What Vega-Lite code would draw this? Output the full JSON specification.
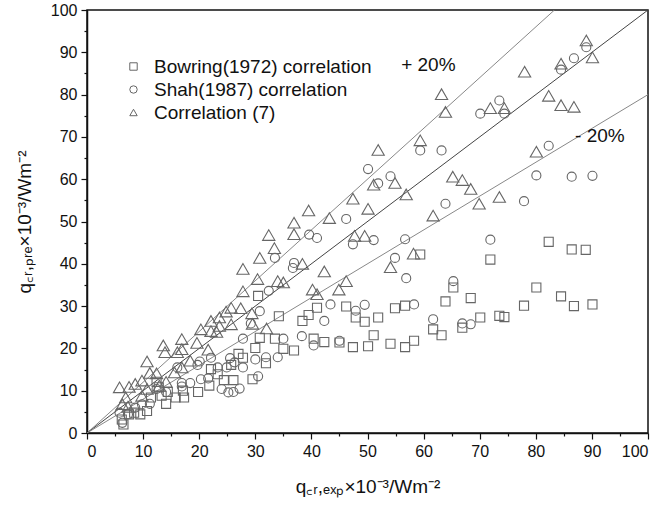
{
  "$schema": "https://vega.github.io/schema/vega-lite/v6.json",
  "autosize": {"type": "none"},
  "width": 561,
  "height": 423,
  "padding": {"left": 87, "top": 10, "right": 15, "bottom": 73},
  "background": "white",
  "config": {
    "view": {"stroke": "#111", "strokeWidth": 1.5},
    "font": "Liberation Sans",
    "axis": {
      "domainColor": "#111", "domainWidth": 1.5, "tickColor": "#111", "tickWidth": 1.2,
      "grid": false, "labelFont": "Liberation Sans", "labelFontSize": 16, "labelColor": "#111",
      "titleFont": "Liberation Sans", "titleFontSize": 19, "titleFontWeight": "normal", "titleColor": "#111"
    }
  },
  "datasets": {
    "pts": [
      {"s":"C7","x":89.0,"y":92.8},{"s":"C7","x":90.1,"y":88.8},{"s":"C7","x":84.5,"y":87.3},{"s":"C7","x":78.0,"y":85.4},
      {"s":"C7","x":63.2,"y":80.1},{"s":"C7","x":63.9,"y":75.9},{"s":"C7","x":71.9,"y":76.8},{"s":"C7","x":74.4,"y":76.8},
      {"s":"C7","x":82.3,"y":79.7},{"s":"C7","x":84.5,"y":77.5},{"s":"C7","x":86.8,"y":77.1},{"s":"C7","x":59.4,"y":69.2},
      {"s":"C7","x":51.9,"y":66.9},{"s":"C7","x":80.1,"y":66.5},{"s":"C7","x":65.2,"y":60.6},{"s":"C7","x":66.9,"y":59.8},
      {"s":"C7","x":68.4,"y":57.7},{"s":"C7","x":69.9,"y":54.2},{"s":"C7","x":73.5,"y":55.8},{"s":"C7","x":61.7,"y":51.4},
      {"s":"C7","x":54.9,"y":59.1},{"s":"C7","x":51.1,"y":58.7},{"s":"C7","x":56.9,"y":56.4},{"s":"C7","x":47.4,"y":55.4},
      {"s":"C7","x":50.1,"y":53.0},{"s":"C7","x":43.2,"y":50.8},{"s":"C7","x":39.5,"y":52.6},{"s":"C7","x":36.9,"y":49.7},
      {"s":"C7","x":36.9,"y":47.0},{"s":"C7","x":38.4,"y":40.0},{"s":"C7","x":47.7,"y":46.6},{"s":"C7","x":49.5,"y":46.6},
      {"s":"C7","x":58.2,"y":42.4},{"s":"C7","x":54.1,"y":39.2},{"s":"C7","x":42.3,"y":38.2},{"s":"C7","x":40.2,"y":33.9},
      {"s":"C7","x":41.0,"y":32.8},{"s":"C7","x":46.2,"y":35.9},{"s":"C7","x":44.9,"y":33.9},{"s":"C7","x":32.4,"y":46.8},
      {"s":"C7","x":33.4,"y":43.7},{"s":"C7","x":30.8,"y":41.4},{"s":"C7","x":30.4,"y":36.4},{"s":"C7","x":27.8,"y":38.8},
      {"s":"C7","x":27.8,"y":33.5},{"s":"C7","x":29.5,"y":25.8},{"s":"C7","x":29.4,"y":28.3},{"s":"C7","x":32.0,"y":24.7},
      {"s":"C7","x":34.0,"y":35.9},{"s":"C7","x":35.0,"y":35.6},{"s":"C7","x":25.7,"y":29.6},{"s":"C7","x":27.4,"y":29.5},
      {"s":"C7","x":25.7,"y":25.7},{"s":"C7","x":23.1,"y":23.9},{"s":"C7","x":24.8,"y":28.7},{"s":"C7","x":23.6,"y":27.3},
      {"s":"C7","x":23.6,"y":25.3},{"s":"C7","x":22.1,"y":26.5},{"s":"C7","x":22.1,"y":24.1},{"s":"C7","x":20.3,"y":24.5},
      {"s":"C7","x":19.6,"y":21.3},{"s":"C7","x":21.6,"y":19.7},{"s":"C7","x":18.4,"y":17.1},{"s":"C7","x":16.9,"y":15.5},
      {"s":"C7","x":16.9,"y":22.2},{"s":"C7","x":16.9,"y":19.8},{"s":"C7","x":13.6,"y":20.7},{"s":"C7","x":13.9,"y":19.1},
      {"s":"C7","x":16.1,"y":19.1},{"s":"C7","x":10.7,"y":16.9},{"s":"C7","x":11.2,"y":14.2},{"s":"C7","x":12.4,"y":14.1},
      {"s":"C7","x":15.6,"y":14.3},{"s":"C7","x":14.1,"y":12.1},{"s":"C7","x":9.8,"y":12.4},{"s":"C7","x":8.6,"y":11.6},
      {"s":"C7","x":7.5,"y":10.9},{"s":"C7","x":5.8,"y":10.8},{"s":"C7","x":6.9,"y":8.4},{"s":"C7","x":6.3,"y":6.8},
      {"s":"C7","x":7.3,"y":6.2},{"s":"C7","x":9.8,"y":8.8},{"s":"C7","x":10.7,"y":10.4},{"s":"C7","x":12.9,"y":11.2},
      {"s":"Shah","x":89.0,"y":91.2},{"s":"Shah","x":86.8,"y":88.6},{"s":"Shah","x":84.5,"y":85.9},{"s":"Shah","x":73.5,"y":78.6},
      {"s":"Shah","x":70.1,"y":75.5},{"s":"Shah","x":74.4,"y":75.5},{"s":"Shah","x":82.3,"y":67.9},{"s":"Shah","x":59.4,"y":66.8},
      {"s":"Shah","x":63.2,"y":66.8},{"s":"Shah","x":50.1,"y":62.4},{"s":"Shah","x":54.1,"y":60.7},{"s":"Shah","x":51.9,"y":59.0},
      {"s":"Shah","x":80.1,"y":60.9},{"s":"Shah","x":86.4,"y":60.6},{"s":"Shah","x":90.1,"y":60.8},{"s":"Shah","x":77.9,"y":54.8},
      {"s":"Shah","x":63.9,"y":54.2},{"s":"Shah","x":46.2,"y":50.6},{"s":"Shah","x":39.6,"y":46.9},{"s":"Shah","x":41.0,"y":46.1},
      {"s":"Shah","x":51.1,"y":45.6},{"s":"Shah","x":56.7,"y":45.8},{"s":"Shah","x":47.4,"y":44.6},{"s":"Shah","x":71.9,"y":45.7},
      {"s":"Shah","x":54.9,"y":41.4},{"s":"Shah","x":33.5,"y":41.4},{"s":"Shah","x":36.9,"y":40.2},{"s":"Shah","x":36.7,"y":39.0},
      {"s":"Shah","x":56.9,"y":36.6},{"s":"Shah","x":65.3,"y":35.9},{"s":"Shah","x":32.4,"y":33.6},{"s":"Shah","x":43.4,"y":30.4},
      {"s":"Shah","x":49.5,"y":30.3},{"s":"Shah","x":58.3,"y":30.4},{"s":"Shah","x":30.8,"y":28.8},{"s":"Shah","x":47.9,"y":28.9},
      {"s":"Shah","x":42.3,"y":26.5},{"s":"Shah","x":61.7,"y":26.9},{"s":"Shah","x":66.9,"y":25.9},{"s":"Shah","x":68.4,"y":25.7},
      {"s":"Shah","x":29.2,"y":25.9},{"s":"Shah","x":27.8,"y":22.3},{"s":"Shah","x":35.0,"y":22.3},{"s":"Shah","x":38.3,"y":22.9},
      {"s":"Shah","x":45.0,"y":21.8},{"s":"Shah","x":40.4,"y":20.7},{"s":"Shah","x":22.1,"y":17.8},{"s":"Shah","x":25.5,"y":17.7},
      {"s":"Shah","x":26.3,"y":16.7},{"s":"Shah","x":30.0,"y":17.4},{"s":"Shah","x":31.9,"y":17.9},{"s":"Shah","x":34.0,"y":17.9},
      {"s":"Shah","x":27.8,"y":15.5},{"s":"Shah","x":23.3,"y":15.5},{"s":"Shah","x":24.9,"y":15.5},{"s":"Shah","x":19.7,"y":16.1},
      {"s":"Shah","x":20.1,"y":16.9},{"s":"Shah","x":16.1,"y":15.5},{"s":"Shah","x":20.3,"y":12.7},{"s":"Shah","x":21.6,"y":12.9},
      {"s":"Shah","x":18.4,"y":11.8},{"s":"Shah","x":16.9,"y":11.8},{"s":"Shah","x":16.9,"y":11.0},{"s":"Shah","x":30.5,"y":13.4},
      {"s":"Shah","x":24.0,"y":10.4},{"s":"Shah","x":27.2,"y":10.5},{"s":"Shah","x":25.2,"y":9.6},{"s":"Shah","x":26.1,"y":9.7},
      {"s":"Shah","x":12.4,"y":10.4},{"s":"Shah","x":14.1,"y":9.7},{"s":"Shah","x":11.2,"y":6.9},{"s":"Shah","x":8.6,"y":6.0},
      {"s":"Shah","x":7.3,"y":4.4},{"s":"Shah","x":6.3,"y":2.4},{"s":"Shah","x":5.8,"y":4.8},{"s":"Shah","x":9.8,"y":6.8},
      {"s":"Bow","x":88.9,"y":43.3},{"s":"Bow","x":86.4,"y":43.4},{"s":"Bow","x":82.3,"y":45.2},{"s":"Bow","x":71.9,"y":41.0},
      {"s":"Bow","x":59.4,"y":42.2},{"s":"Bow","x":65.3,"y":34.4},{"s":"Bow","x":80.1,"y":34.4},{"s":"Bow","x":84.5,"y":32.3},
      {"s":"Bow","x":68.4,"y":31.9},{"s":"Bow","x":63.9,"y":31.1},{"s":"Bow","x":90.1,"y":30.4},{"s":"Bow","x":86.8,"y":30.0},
      {"s":"Bow","x":77.9,"y":30.1},{"s":"Bow","x":56.7,"y":30.1},{"s":"Bow","x":54.9,"y":29.5},{"s":"Bow","x":46.2,"y":29.9},
      {"s":"Bow","x":41.0,"y":29.6},{"s":"Bow","x":39.5,"y":27.9},{"s":"Bow","x":38.4,"y":26.5},{"s":"Bow","x":70.1,"y":27.3},
      {"s":"Bow","x":73.5,"y":27.7},{"s":"Bow","x":74.4,"y":27.4},{"s":"Bow","x":61.7,"y":24.5},{"s":"Bow","x":63.2,"y":23.1},
      {"s":"Bow","x":66.9,"y":24.9},{"s":"Bow","x":51.9,"y":27.3},{"s":"Bow","x":49.5,"y":26.3},{"s":"Bow","x":47.9,"y":27.3},
      {"s":"Bow","x":51.1,"y":23.1},{"s":"Bow","x":34.2,"y":27.6},{"s":"Bow","x":30.5,"y":32.4},{"s":"Bow","x":30.8,"y":22.5},
      {"s":"Bow","x":33.5,"y":22.3},{"s":"Bow","x":40.4,"y":22.3},{"s":"Bow","x":42.3,"y":21.5},{"s":"Bow","x":45.0,"y":21.4},
      {"s":"Bow","x":54.1,"y":21.1},{"s":"Bow","x":58.3,"y":21.8},{"s":"Bow","x":47.4,"y":20.3},{"s":"Bow","x":50.1,"y":20.5},
      {"s":"Bow","x":56.7,"y":20.3},{"s":"Bow","x":35.0,"y":19.9},{"s":"Bow","x":36.9,"y":19.5},{"s":"Bow","x":31.9,"y":16.5},
      {"s":"Bow","x":27.8,"y":17.8},{"s":"Bow","x":27.0,"y":18.7},{"s":"Bow","x":30.0,"y":20.1},{"s":"Bow","x":25.7,"y":16.1},
      {"s":"Bow","x":26.1,"y":12.5},{"s":"Bow","x":24.4,"y":12.5},{"s":"Bow","x":23.3,"y":13.9},{"s":"Bow","x":29.5,"y":12.7},
      {"s":"Bow","x":22.1,"y":15.1},{"s":"Bow","x":21.8,"y":11.2},{"s":"Bow","x":19.8,"y":9.7},{"s":"Bow","x":17.1,"y":10.0},
      {"s":"Bow","x":15.8,"y":8.4},{"s":"Bow","x":17.3,"y":8.4},{"s":"Bow","x":14.1,"y":6.9},{"s":"Bow","x":13.3,"y":8.8},
      {"s":"Bow","x":12.4,"y":12.1},{"s":"Bow","x":10.7,"y":5.2},{"s":"Bow","x":9.5,"y":4.4},{"s":"Bow","x":8.4,"y":4.8},
      {"s":"Bow","x":6.5,"y":2.0},{"s":"Bow","x":6.2,"y":3.2},{"s":"Bow","x":7.5,"y":4.4},{"s":"Bow","x":11.4,"y":8.4},
      {"s":"Bow","x":14.4,"y":9.7},{"s":"Bow","x":12.8,"y":10.8}
    ],
    "lines": [
      {"l":"plus","x":0,"y":0},{"l":"plus","x":83.33,"y":100},
      {"l":"one","x":0,"y":0},{"l":"one","x":100,"y":100},
      {"l":"minus","x":0,"y":0},{"l":"minus","x":100,"y":80}
    ],
    "notes": [
      {"t":"+ 20%","x":56.0,"y":87.0},
      {"t":"- 20%","x":87.0,"y":70.2}
    ]
  },
  "encoding": {
    "x": {
      "field": "x", "type": "quantitative",
      "scale": {"domain": [0, 100], "nice": false},
      "axis": {
        "values": [0,5,10,15,20,25,30,35,40,45,50,55,60,65,70,75,80,85,90,95,100],
        "labelExpr": "datum.value % 10 === 0 ? datum.label : ''",
        "tickSize": {"condition": {"test": "datum.value % 10 === 0", "value": 6}, "value": 3},
        "labelPadding": 4,
        "titlePadding": 18,
        "title": "q꜀ᵣ,ₑₓₚ×10⁻³/Wm⁻²"
      }
    },
    "y": {
      "field": "y", "type": "quantitative",
      "scale": {"domain": [0, 100], "nice": false},
      "axis": {
        "values": [0,5,10,15,20,25,30,35,40,45,50,55,60,65,70,75,80,85,90,95,100],
        "labelExpr": "datum.value % 10 === 0 ? datum.label : ''",
        "tickSize": {"condition": {"test": "datum.value % 10 === 0", "value": 6}, "value": 3},
        "labelPadding": 4,
        "titlePadding": 16,
        "title": "q꜀ᵣ,ₚᵣₑ×10⁻³/Wm⁻²"
      }
    }
  },
  "layer": [
    {
      "data": {"name": "lines"},
      "mark": {"type": "line", "strokeWidth": 1, "clip": true},
      "encoding": {
        "detail": {"field": "l"},
        "color": {"field": "l", "type": "nominal", "scale": {"domain": ["plus","one","minus"], "range": ["#888","#444","#888"]}, "legend": null}
      }
    },
    {
      "data": {"name": "pts"},
      "transform": [{"filter": "datum.s !== 'C7'"}],
      "mark": {"type": "point", "filled": false, "strokeWidth": 1.1, "size": 82, "color": "#666", "opacity": 1},
      "encoding": {
        "shape": {
          "field": "s", "type": "nominal",
          "scale": {"domain": ["Bow","Shah","C7"], "range": ["square","circle","triangle-up"]},
          "legend": {
            "title": null, "orient": "none", "legendX": 37, "legendY": 47,
            "labelExpr": "datum.label === 'Bow' ? 'Bowring(1972) correlation' : datum.label === 'Shah' ? 'Shah(1987) correlation' : 'Correlation (7)'",
            "labelFontSize": 19, "labelFont": "Liberation Sans", "labelColor": "#111", "labelLimit": 0,
            "symbolSize": 55, "symbolStrokeWidth": 1, "symbolStrokeColor": "#666", "symbolFillColor": "transparent",
            "rowPadding": 3, "labelOffset": 11
          }
        }
      }
    },
    {
      "data": {"name": "pts"},
      "transform": [{"filter": "datum.s === 'C7'"}],
      "mark": {"type": "point", "filled": false, "strokeWidth": 1.1, "size": 150, "color": "#666", "opacity": 1},
      "encoding": {
        "shape": {"field": "s", "type": "nominal"}
      }
    },
    {
      "data": {"name": "notes"},
      "mark": {"type": "text", "align": "left", "baseline": "middle", "fontSize": 19, "font": "Liberation Sans", "color": "#111"},
      "encoding": {
        "text": {"field": "t"}
      }
    }
  ]
}
